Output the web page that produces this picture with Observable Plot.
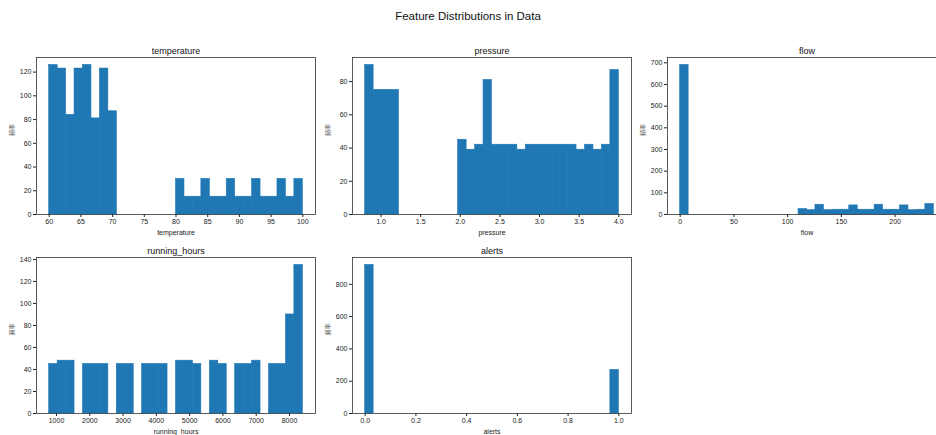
<!DOCTYPE html>
<html>
<head>
<meta charset="utf-8">
<script src="https://cdn.jsdelivr.net/npm/d3@7"></script>
<script src="https://cdn.jsdelivr.net/npm/@observablehq/plot@0.6"></script>
<style>
  html, body { margin: 0; padding: 0; background: #fff; overflow: hidden; }
  #fig { position: relative; width: 936px; height: 435px; overflow: hidden; background: #fff; }
  #suptitle {
    position: absolute; left: 0; top: 10px; width: 936px; text-align: center;
    font-family: "Liberation Sans", Arial, sans-serif; font-size: 11.5px; color: #111;
  }
  .panel { position: absolute; }
</style>
</head>
<body>
<div id="fig">
  <div id="suptitle">Feature Distributions in Data</div>
</div>
<script>
// Histogram counts per feature (30 equal-width bins across each feature's range)
const temperatureCounts = [126, 123, 84, 123, 126, 81, 123, 87, 0, 0, 0, 0, 0, 0, 0,
  30, 15, 15, 30, 15, 15, 30, 15, 15, 30, 15, 15, 30, 15, 30];
const temperatureRange = [60, 100];
const temperatureXTicks = [60, 65, 70, 75, 80, 85, 90, 95, 100];
const temperatureYTicks = [0, 20, 40, 60, 80, 100, 120];

const pressureCounts = [90, 75, 75, 75, 0, 0, 0, 0, 0, 0, 0,
  45, 39, 42, 81, 42, 42, 42, 39, 42, 42, 42, 42, 42, 42, 39, 42, 39, 42, 87];
const pressureRange = [0.8, 4.0];
const pressureXTicks = [1.0, 1.5, 2.0, 2.5, 3.0, 3.5, 4.0];
const pressureYTicks = [0, 20, 40, 60, 80];

const flowCounts = [690, 0, 0, 0, 0, 0, 0, 0, 0, 0, 0, 0, 0, 0,
  25, 20, 45, 20, 22, 22, 42, 22, 22, 45, 22, 22, 42, 20, 22, 48];
const flowRange = [0, 236];
const flowXTicks = [0, 50, 100, 150, 200];
const flowYTicks = [0, 100, 200, 300, 400, 500, 600, 700];

const runningHoursCounts = [45, 48, 48, 0, 45, 45, 45, 0, 45, 45, 0, 45, 45, 45, 0,
  48, 48, 45, 0, 48, 45, 0, 45, 45, 48, 0, 45, 45, 90, 135];
const runningHoursRange = [780, 8400];
const runningHoursXTicks = [1000, 2000, 3000, 4000, 5000, 6000, 7000, 8000];
const runningHoursYTicks = [0, 20, 40, 60, 80, 100, 120, 140];

const alertsCounts = [920, 0, 0, 0, 0, 0, 0, 0, 0, 0, 0, 0, 0, 0, 0,
  0, 0, 0, 0, 0, 0, 0, 0, 0, 0, 0, 0, 0, 0, 270];
const alertsRange = [0, 1];
const alertsXTicks = [0, 0.2, 0.4, 0.6, 0.8, 1.0];
const alertsYTicks = [0, 200, 400, 600, 800];

const yLabel = "频率";

const panels = [
  {name: "temperature", counts: temperatureCounts, range: temperatureRange,
   xTicks: temperatureXTicks, yTicks: temperatureYTicks, fmt: d3.format("d"), left: 0, top: 35, h: 201},
  {name: "pressure", counts: pressureCounts, range: pressureRange,
   xTicks: pressureXTicks, yTicks: pressureYTicks, fmt: d3.format(".1f"), left: 316, top: 35, h: 201},
  {name: "flow", counts: flowCounts, range: flowRange,
   xTicks: flowXTicks, yTicks: flowYTicks, fmt: d3.format("d"), left: 631, top: 35, h: 201},
  {name: "running_hours", counts: runningHoursCounts, range: runningHoursRange,
   xTicks: runningHoursXTicks, yTicks: runningHoursYTicks, fmt: d3.format("d"), left: 0, top: 235, h: 200},
  {name: "alerts", counts: alertsCounts, range: alertsRange,
   xTicks: alertsXTicks, yTicks: alertsYTicks, fmt: d3.format(".1f"), left: 316, top: 235, h: 200}
];

const fig = document.getElementById("fig");

for (const p of panels) {
  const n = p.counts.length;
  const w = (p.range[1] - p.range[0]) / n;
  const bars = p.counts
    .map((count, i) => ({x1: p.range[0] + i * w, x2: p.range[0] + (i + 1) * w, count}))
    .filter(b => b.count > 0);
  const span = p.range[1] - p.range[0];

  const chart = Plot.plot({
    width: 320,
    height: p.h,
    marginLeft: 36,
    marginRight: 5,
    marginTop: 22,
    marginBottom: 22,
    style: {
      fontFamily: "'Liberation Sans', Arial, sans-serif",
      fontSize: "7px",
      color: "#222",
      background: "transparent",
      overflow: "visible"
    },
    x: {
      domain: [p.range[0] - 0.05 * span, p.range[1] + 0.05 * span],
      ticks: p.xTicks,
      tickFormat: p.fmt,
      tickSize: 3,
      tickPadding: 2,
      label: null
    },
    y: {
      domain: [0, d3.max(p.counts) * 1.05],
      ticks: p.yTicks,
      tickSize: 3,
      tickPadding: 2,
      label: null
    },
    marks: [
      // stroke in the fill colour closes the anti-aliasing seams between adjacent bins
      Plot.rectY(bars, {x1: "x1", x2: "x2", y: "count", fill: "#1f77b4",
        stroke: "#1f77b4", strokeWidth: 0.6, inset: 0}),
      Plot.frame({stroke: "#333", strokeWidth: 0.8}),
      Plot.text([p.name], {text: d => d, frameAnchor: "top", lineAnchor: "middle", dy: -6,
        fontSize: 9, fill: "#111"}),
      Plot.text([p.name], {text: d => d, frameAnchor: "bottom", lineAnchor: "middle", dy: 18,
        fontSize: 7, fill: "#222"}),
      Plot.text([yLabel], {text: d => d, frameAnchor: "left", dx: -24, rotate: -90,
        fontSize: 6, fill: "#555", fontFamily: "'Noto Sans CJK SC', sans-serif"})
    ]
  });
  chart.classList.add("panel");
  chart.style.left = p.left + "px";
  chart.style.top = p.top + "px";
  fig.appendChild(chart);
}
</script>
</body>
</html>
